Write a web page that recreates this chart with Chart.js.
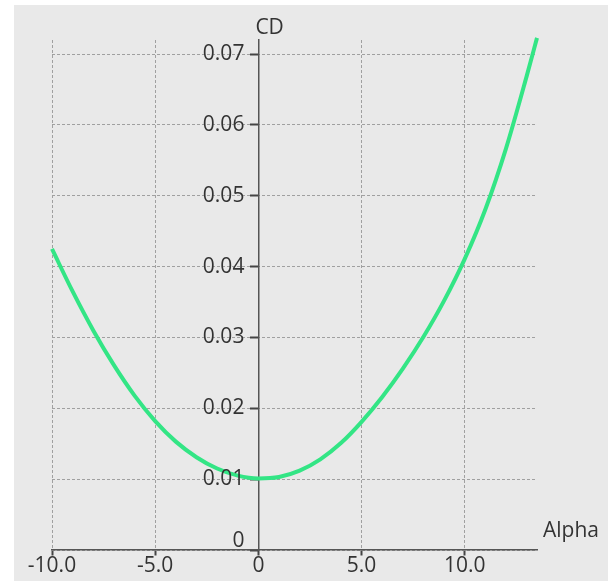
<!DOCTYPE html>
<html>
<head>
<meta charset="utf-8">
<script src="https://cdn.jsdelivr.net/npm/chart.js@4.4.1/dist/chart.umd.min.js"></script>
<style>
  body { margin: 0; background: #fff; }
  #wrap { width: 608px; height: 581px; }
</style>
</head>
<body>
<div id="wrap"><canvas id="c" width="608" height="581"></canvas></div>
<script>
// angle of attack vs drag coefficient
var alpha = [-10, -9, -8, -7, -6, -5, -4, -3, -2, -1, 0, 1, 2, 3, 4, 5, 6, 7, 8, 9, 10, 11, 12, 13, 13.5];
var cd = [0.0425, 0.0365, 0.0310, 0.0261, 0.0218, 0.0182, 0.0153, 0.0131, 0.0115, 0.0105, 0.0101,
          0.0103, 0.0112, 0.0128, 0.0151, 0.0181, 0.0216, 0.0256, 0.0301, 0.0352, 0.0411, 0.0481,
          0.0567, 0.0669, 0.0723];
var xTicks = [-10, -5, 0, 5, 10];
var xLabels = ['-10.0', '-5.0', '0', '5.0', '10.0'];
var yTicks = [0, 0.01, 0.02, 0.03, 0.04, 0.05, 0.06, 0.07];
var yLabels = ['0', '0.01', '0.02', '0.03', '0.04', '0.05', '0.06', '0.07'];

var fontSize = 21;
var font = { family: 'Open Sans', size: fontSize };
var txtColor = '#333';

var points = [];
for (var i = 0; i < alpha.length; i++) {
    points.push({ x: alpha[i], y: cd[i] });
}

var extras = {
    id: 'extras',
    beforeDraw: function (chart) {
        var ctx = chart.ctx;
        ctx.save();
        ctx.fillStyle = '#e9e9e9';
        ctx.fillRect(14, 5, 594, 576);
        ctx.restore();
    },
    afterDraw: function (chart) {
        var ctx = chart.ctx;
        var xs = chart.scales.x, ys = chart.scales.y;
        var x0 = xs.getPixelForValue(0);
        var y0 = ys.getPixelForValue(0);
        ctx.save();
        ctx.fillStyle = txtColor;
        ctx.font = fontSize + 'px "Open Sans"';
        ctx.textBaseline = 'middle';
        ctx.textAlign = 'right';
        for (var k = 0; k < yTicks.length; k++) {
            var yy = ys.getPixelForValue(yTicks[k]);
            // the zero label is lifted above the x axis
            if (k === 0) yy -= 9;
            ctx.fillText(yLabels[k], x0 - 14, yy);
        }
        ctx.textAlign = 'left';
        ctx.fillText('CD', x0 - 3, chart.chartArea.top - 12);
        ctx.fillText('Alpha', chart.chartArea.right + 6, y0 - 19);
        ctx.restore();
    }
};

new Chart(document.getElementById('c'), {
    type: 'scatter',
    data: {
        datasets: [{
            data: points,
            showLine: true,
            borderColor: '#33e585',
            borderWidth: 4,
            pointRadius: 0,
            cubicInterpolationMode: 'monotone',
            clip: false
        }]
    },
    options: {
        responsive: false,
        animation: false,
        layout: { padding: { left: 52, right: 71, top: 40, bottom: 31 } },
        plugins: { legend: { display: false }, tooltip: { enabled: false } },
        scales: {
            x: {
                type: 'linear',
                position: { y: 0 },
                min: -10,
                max: 13.5,
                afterBuildTicks: function (s) {
                    s.ticks = xTicks.map(function (v) { return { value: v }; });
                },
                ticks: {
                    font: font,
                    color: txtColor,
                    padding: -2,
                    maxRotation: 0,
                    autoSkip: false,
                    callback: function (v) { return xLabels[xTicks.indexOf(v)]; }
                },
                grid: {
                    color: '#a0a0a0',
                    lineWidth: 1,
                    tickLength: 5,
                    tickColor: '#444',
                    tickWidth: 2,
                    tickBorderDash: []
                },
                border: { display: true, color: '#555', width: 1.5, dash: [3, 2] }
            },
            y: {
                type: 'linear',
                position: { x: 0 },
                min: 0,
                max: 0.072,
                afterBuildTicks: function (s) {
                    s.ticks = yTicks.map(function (v) { return { value: v }; });
                },
                ticks: { display: false },
                grid: {
                    color: '#a0a0a0',
                    lineWidth: 1,
                    tickLength: 8,
                    tickColor: '#444',
                    tickWidth: 2,
                    tickBorderDash: []
                },
                border: { display: true, color: '#555', width: 1.5, dash: [3, 2] }
            }
        }
    },
    plugins: [extras]
});
</script>
</body>
</html>
